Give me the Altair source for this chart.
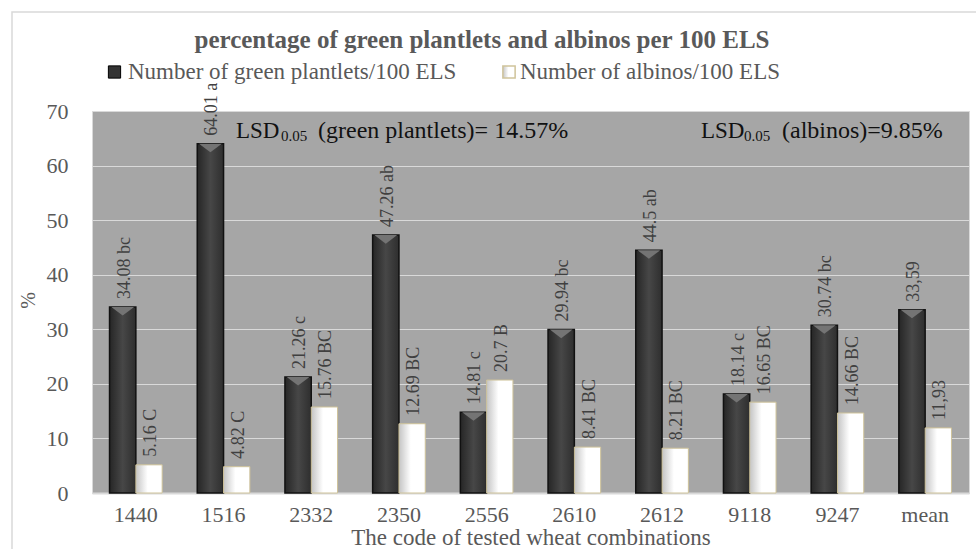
import altair as alt
import pandas as pd

categories = ["1440", "1516", "2332", "2350", "2556", "2610", "2612", "9118", "9247", "mean"]
green = [34.08, 64.01, 21.26, 47.26, 14.81, 29.94, 44.5, 18.14, 30.74, 33.59]
albino = [5.16, 4.82, 15.76, 12.69, 20.7, 8.41, 8.21, 16.65, 14.66, 11.93]
green_labels = ["34.08 bc", "64.01 a", "21.26 c", "47.26 ab", "14.81 c", "29.94 bc",
                "44.5 ab", "18.14 c", "30.74 bc", "33,59"]
albino_labels = ["5.16 C", "4.82 C", "15.76 BC", "12.69 BC", "20.7 B", "8.41 BC",
                 "8.21 BC", "16.65 BC", "14.66 BC", "11,93"]
series_names = ["Number of green plantlets/100 ELS", "Number of albinos/100 ELS"]
y_ticks = [0, 10, 20, 30, 40, 50, 60, 70]
title_text = "percentage of green plantlets and albinos per 100 ELS"
x_title = "The code of tested wheat combinations"
y_title = "%"
lsd_main = ["LSD", "LSD"]
lsd_sub = ["0.05", "0.05"]
lsd_rest = ["(green plantlets)= 14.57%", "(albinos)=9.85%"]

rows = []
for i, c in enumerate(categories):
    rows.append(dict(cat=c, series=series_names[0], value=green[i], label=green_labels[i]))
    rows.append(dict(cat=c, series=series_names[1], value=albino[i], label=albino_labels[i]))
df = pd.DataFrame(rows)

FONT = "Liberation Serif"
GREY_TXT = "#595959"
W, H = 877, 382

x_enc = alt.X(
    "cat:N", sort=categories,
    scale=alt.Scale(paddingInner=0.4, paddingOuter=0.2),
    axis=alt.Axis(title=x_title, labelAngle=0, ticks=False, tickSize=0, labelPadding=28,
                  labelBaseline="alphabetic",
                  domainColor="#d9d9d9", domainWidth=2, grid=False,
                  labelFont=FONT, labelFontSize=22, labelColor=GREY_TXT,
                  titleFont=FONT, titleFontSize=23, titleColor=GREY_TXT,
                  titleFontWeight="normal", titleY=51, titleBaseline="alphabetic"),
)
xo = alt.XOffset("series:N", sort=series_names,
                 scale=alt.Scale(domain=series_names, paddingInner=0, paddingOuter=0))
y_enc = alt.Y(
    "value:Q", scale=alt.Scale(domain=[0, 70], nice=False),
    axis=alt.Axis(values=y_ticks, title=y_title, ticks=False, tickSize=0, domain=False,
                  labelPadding=24, gridColor="#d9d9d9", gridWidth=1,
                  labelFont=FONT, labelFontSize=22, labelColor=GREY_TXT,
                  titleFont=FONT, titleFontSize=20, titleColor=GREY_TXT,
                  titleFontWeight="normal", titleX=-64, titleY=189, titleAngle=270,
                  titleBaseline="middle"),
)

dark_grad = alt.LinearGradient(
    gradient="linear",
    stops=[alt.GradientStop(color="#262626", offset=0),
           alt.GradientStop(color="#474747", offset=0.5),
           alt.GradientStop(color="#2e2e2e", offset=1)],
    x1=0, x2=1, y1=0, y2=0)
white_grad = alt.LinearGradient(
    gradient="linear",
    stops=[alt.GradientStop(color="#c4c4c4", offset=0),
           alt.GradientStop(color="#ececec", offset=0.3),
           alt.GradientStop(color="#ffffff", offset=0.45),
           alt.GradientStop(color="#ffffff", offset=1)],
    x1=0, x2=1, y1=0, y2=0)

border = alt.Chart(pd.DataFrame({"b": [1]})).mark_rect(
    fillOpacity=0, stroke="#d9d9d9", strokeWidth=1.5
).encode(x=alt.value(-80), x2=alt.value(900), y=alt.value(-99), y2=alt.value(460))

green_bars = alt.Chart(df).transform_filter(
    alt.datum.series == series_names[0]
).mark_bar(fill=dark_grad, stroke="#111111", strokeWidth=1.5).encode(
    x=x_enc, xOffset=xo, y=y_enc)

albino_bars = alt.Chart(df).transform_filter(
    alt.datum.series == series_names[1]
).mark_bar(fill=white_grad, stroke="#cfc39a", strokeWidth=1).encode(
    x=x_enc, xOffset=xo, y=y_enc)

tops = alt.Chart(df).transform_filter(
    alt.datum.series == series_names[0]
).mark_point(shape="M -1 0 L 1 0 L 0 0.75 Z", filled=True, fill="#747474",
             size=520, strokeWidth=0, opacity=1).encode(
    x=x_enc, xOffset=xo, y=y_enc)

labels = alt.Chart(df).mark_text(
    angle=270, align="left", baseline="middle", dx=8, dy=2,
    font=FONT, fontSize=18, color="#404040"
).encode(x=x_enc, xOffset=xo, y=y_enc, text="label:N")

title = alt.Chart(pd.DataFrame({"t": [title_text]})).mark_text(
    font=FONT, fontSize=25, fontWeight="bold", color=GREY_TXT,
    align="center", baseline="middle"
).encode(x=alt.value(390), y=alt.value(-71), text="t:N")

leg_df = pd.DataFrame({"name": series_names})
leg_sym1 = alt.Chart(leg_df).transform_filter(
    alt.datum.name == series_names[0]
).mark_square(size=150, filled=True, fill="#333333", stroke="#000000",
              strokeWidth=1, opacity=1).encode(x=alt.value(22.5), y=alt.value(-39))
leg_sym2 = alt.Chart(leg_df).transform_filter(
    alt.datum.name == series_names[1]
).mark_square(size=150, filled=True, fill=white_grad, stroke="#cfc39a",
              strokeWidth=1.5, opacity=1).encode(x=alt.value(417), y=alt.value(-39))
leg_txt1 = alt.Chart(leg_df).transform_filter(
    alt.datum.name == series_names[0]
).mark_text(font=FONT, fontSize=23, color=GREY_TXT, align="left", baseline="middle"
            ).encode(x=alt.value(36), y=alt.value(-39), text="name:N")
leg_txt2 = alt.Chart(leg_df).transform_filter(
    alt.datum.name == series_names[1]
).mark_text(font=FONT, fontSize=23, color=GREY_TXT, align="left", baseline="middle"
            ).encode(x=alt.value(428), y=alt.value(-39), text="name:N")

lsd_df = pd.DataFrame({"main": lsd_main, "sub": lsd_sub, "rest": lsd_rest, "k": [0, 1]})


def lsd_piece(k, field, xpix, ypix, size):
    return alt.Chart(lsd_df).transform_filter(alt.datum.k == k).mark_text(
        font=FONT, fontSize=size, color="#111111", align="left", baseline="alphabetic"
    ).encode(x=alt.value(xpix), y=alt.value(ypix), text=f"{field}:N")


lsd_layers = [
    lsd_piece(0, "main", 144, 27, 23),
    lsd_piece(0, "sub", 189, 30, 15),
    lsd_piece(0, "rest", 226, 27, 24),
    lsd_piece(1, "main", 609, 27, 23),
    lsd_piece(1, "sub", 652, 30, 15),
    lsd_piece(1, "rest", 690, 27, 24),
]

chart = alt.layer(
    border, green_bars, albino_bars, tops, labels, title,
    leg_sym1, leg_sym2, leg_txt1, leg_txt2, *lsd_layers
).properties(
    width=W, height=H,
    autosize=alt.AutoSizeParams(type="none"),
    padding={"left": 92, "top": 111, "right": 7, "bottom": 56},
    background="white",
).configure_view(fill="#a6a6a6", stroke="#d9d9d9", strokeWidth=1)

chart.save("out.html", embed_options={"renderer": "svg", "actions": False})
